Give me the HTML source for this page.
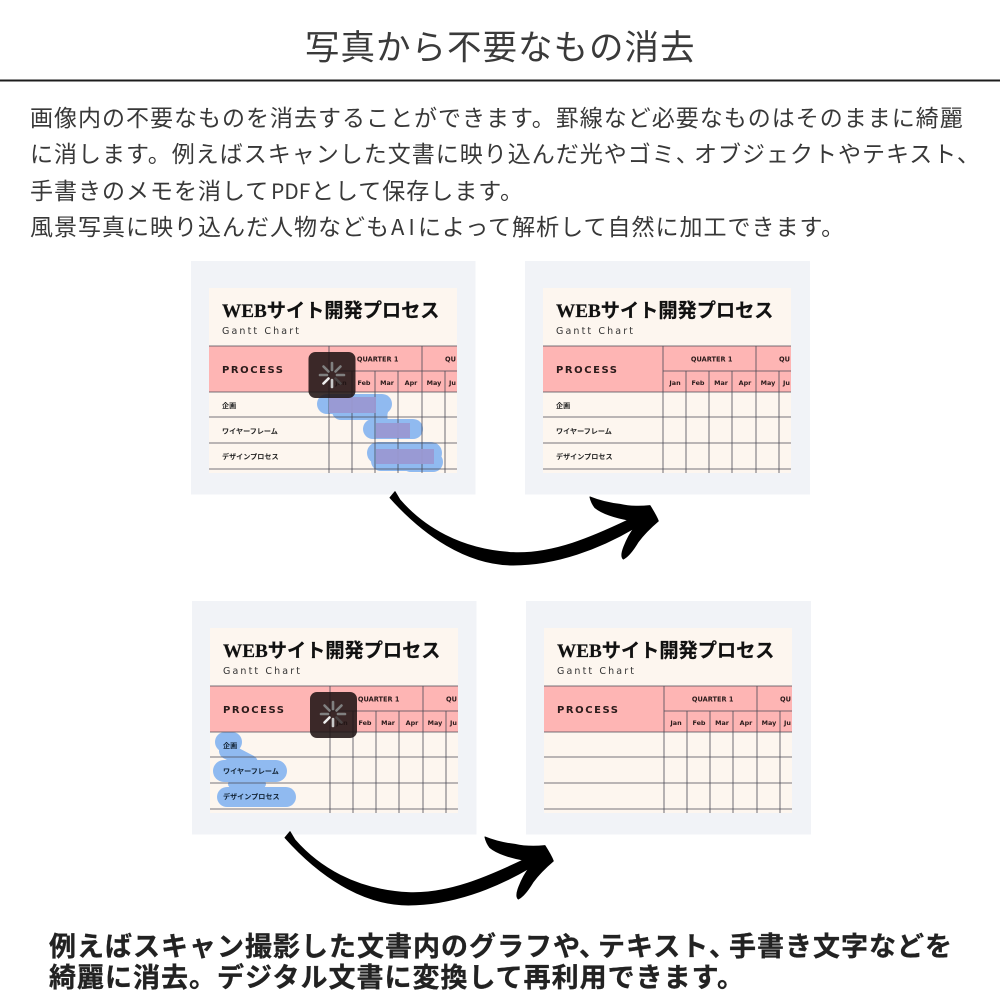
<!DOCTYPE html>
<html lang="ja"><head><meta charset="utf-8"><style>
html,body{margin:0;padding:0;background:#fff}
svg{display:block}
text{font-family:"Liberation Sans","Noto Sans CJK JP",sans-serif}
.j{font-family:"Noto Sans CJK JP",sans-serif}
.b{font-size:23px;letter-spacing:1px;fill:#383838}
.h{font-weight:700;font-size:27px;letter-spacing:1px;fill:#222;stroke:#222;stroke-width:.3}
.t{font-size:19.2px;font-weight:700;fill:#111;stroke:#111;stroke-width:.2;font-family:"Liberation Serif","Noto Sans CJK JP",serif}
.g{font-size:9.5px;fill:#333;font-family:"DejaVu Sans",sans-serif}
.p{font-size:10px;font-weight:700;fill:#2a1a1a;font-family:"DejaVu Sans",sans-serif}
.q{font-size:6.6px;font-weight:700;fill:#2a1a1a;text-anchor:middle;font-family:"DejaVu Sans",sans-serif}
.m{font-size:6.4px;font-weight:700;fill:#2a1a1a;text-anchor:middle;font-family:"DejaVu Sans",sans-serif}
.r{font-size:7.1px;font-weight:700;fill:#222}
.l{stroke:#4a4a55;stroke-width:.8;fill:none}
.bl{fill:none;stroke:#90baf0;stroke-linecap:round;stroke-linejoin:round}
.sp{stroke-width:2.6;stroke-linecap:round;fill:none}
</style></head><body>
<svg xmlns="http://www.w3.org/2000/svg" width="1000" height="1000" viewBox="0 0 1000 1000">
<rect width="1000" height="1000" fill="#fff"/>
<text class="j" x="305" y="59.500" font-size="34.500" letter-spacing="1" fill="#3a3a3a">写真から不要なもの消去</text>
<rect x="0" y="79.500" width="1000" height="2" fill="#1c1c1c"/>
<text class="j b" x="30" y="126">画像内の不要なものを消去することができます。罫線など必要なものはそのままに綺麗</text>
<text class="j b" x="30" y="162">に消します。例えばスキャンした文書に映り込んだ光やゴミ、</text>
<text class="j b" x="694" y="162">オブジェクトやテキスト、</text>
<text class="j b" x="30" y="199">手書きのメモを消して</text>
<text class="j" x="271" y="199" font-size="21" letter-spacing="0" fill="#383838">PDF</text>
<text class="j b" x="311" y="199">として保存します。</text>
<text class="j b" x="30" y="235">風景写真に映り込んだ人物なども</text>
<text class="j" x="391" y="235" font-size="22" letter-spacing="4" fill="#383838">AI</text>
<text class="j b" x="418" y="235">によって解析して自然に加工できます。</text>

<!-- Panel 1 -->
<g transform="translate(191 261)">
<rect width="284.500" height="233.500" fill="#f1f3f7"/>
<rect x="18" y="27" width="248" height="185" fill="#fdf6ef"/>
<rect x="18" y="85" width="248" height="46" fill="#feb5b4"/>
<text class="t" x="31" y="56">WEBサイト開発プロセス</text>
<text class="g" x="31" y="73" textLength="77">Gantt Chart</text>
<text class="p" x="31" y="112" textLength="61">PROCESS</text>
<text class="q" x="186.700" y="100.500">QUARTER 1</text><text class="q" x="254" y="100.500" style="text-anchor:start">QU</text>
<text class="m" x="150" y="124">Jan</text><text class="m" x="173" y="124">Feb</text><text class="m" x="196" y="124">Mar</text><text class="m" x="220" y="124">Apr</text><text class="m" x="243" y="124">May</text><text class="m" x="258" y="124" style="text-anchor:start">Ju</text>
<text class="r j" x="31" y="147">企画</text><text class="r j" x="31" y="172.500">ワイヤーフレーム</text><text class="r j" x="31" y="198">デザインプロセス</text>
<path class="bl" stroke-width="20" d="M136 143H191"/><path class="bl" stroke-width="18" d="M150 150H188"/><path class="bl" stroke-width="15" d="M189 155V165"/><path class="bl" stroke-width="20" d="M182 168H222"/><path class="bl" stroke-width="22" d="M187 192H240"/><path class="bl" stroke-width="20" d="M190 200H215M220 201H242"/>
<path class="l" d="M18 85H266M18 131H266M18 156H266M18 182H266M18 208H266M138 85V212M161 110V212M184 110V212M207 110V212M231 85V212M254 110V212M138 110H266"/>
<rect x="138" y="136" width="47" height="16" fill="#9a98d2" fill-opacity=".95"/><rect x="185" y="162" width="34" height="15" fill="#9a98d2" fill-opacity=".95"/><rect x="185" y="188" width="58" height="15" fill="#9a98d2" fill-opacity=".95"/>
<rect x="117.500" y="91" width="47" height="46" rx="7" fill="#201515" fill-opacity=".88"/>
<path class="sp" stroke="#808080" d="M141 102v7M149.500 105.500l-5 5M153 114h-7M129 114h7M132.500 105.500l5 5"/><path class="sp" stroke="#4a4444" d="M149.500 122.500l-5-5"/><path class="sp" stroke="#c8c8c8" d="M141 126v-7"/><path class="sp" stroke="#eee" d="M132.500 122.500l5-5"/>
</g>

<!-- Panel 2 -->
<g transform="translate(525 261)">
<rect width="285" height="233.500" fill="#f1f3f7"/>
<rect x="18" y="27" width="248" height="185" fill="#fdf6ef"/>
<rect x="18" y="85" width="248" height="46" fill="#feb5b4"/>
<text class="t" x="31" y="56">WEBサイト開発プロセス</text>
<text class="g" x="31" y="73" textLength="77">Gantt Chart</text>
<text class="p" x="31" y="112" textLength="61">PROCESS</text>
<text class="q" x="186.700" y="100.500">QUARTER 1</text><text class="q" x="254" y="100.500" style="text-anchor:start">QU</text>
<text class="m" x="150" y="124">Jan</text><text class="m" x="173" y="124">Feb</text><text class="m" x="196" y="124">Mar</text><text class="m" x="220" y="124">Apr</text><text class="m" x="243" y="124">May</text><text class="m" x="258" y="124" style="text-anchor:start">Ju</text>
<text class="r j" x="31" y="147">企画</text><text class="r j" x="31" y="172.500">ワイヤーフレーム</text><text class="r j" x="31" y="198">デザインプロセス</text>
<path class="l" d="M18 85H266M18 131H266M18 156H266M18 182H266M18 208H266M138 85V212M161 110V212M184 110V212M207 110V212M231 85V212M254 110V212M138 110H266"/>
</g>

<!-- Panel 3 -->
<g transform="translate(192 601)">
<rect width="284.500" height="233.500" fill="#f1f3f7"/>
<rect x="18" y="27" width="248" height="185" fill="#fdf6ef"/>
<rect x="18" y="85" width="248" height="46" fill="#feb5b4"/>
<text class="t" x="31" y="56">WEBサイト開発プロセス</text>
<text class="g" x="31" y="73" textLength="77">Gantt Chart</text>
<text class="p" x="31" y="112" textLength="61">PROCESS</text>
<text class="q" x="186.700" y="100.500">QUARTER 1</text><text class="q" x="254" y="100.500" style="text-anchor:start">QU</text>
<text class="m" x="150" y="124">Jan</text><text class="m" x="173" y="124">Feb</text><text class="m" x="196" y="124">Mar</text><text class="m" x="220" y="124">Apr</text><text class="m" x="243" y="124">May</text><text class="m" x="258" y="124" style="text-anchor:start">Ju</text>
<path class="bl" stroke-width="20" d="M33 141H40"/><path class="bl" stroke-width="16" d="M35 150L58 162"/><path class="bl" stroke-width="22" d="M32 170H84"/><path class="bl" stroke-width="8" d="M40 183H70"/><path class="bl" stroke-width="20" d="M35 196H94"/>
<path class="l" d="M18 85H266M18 131H266M18 156H266M18 182H266M18 208H266M138 85V212M161 110V212M184 110V212M207 110V212M231 85V212M254 110V212M138 110H266"/>
<text class="r j" x="31" y="147" style="fill:#123">企画</text><text class="r j" x="31" y="172.500" style="fill:#123">ワイヤーフレーム</text><text class="r j" x="31" y="198" style="fill:#123">デザインプロセス</text>
<rect x="118" y="91" width="47" height="46" rx="7" fill="#201515" fill-opacity=".88"/>
<g transform="translate(0 -1)"><path class="sp" stroke="#808080" d="M141 102v7M149.500 105.500l-5 5M153 114h-7M129 114h7M132.500 105.500l5 5"/><path class="sp" stroke="#4a4444" d="M149.500 122.500l-5-5"/><path class="sp" stroke="#c8c8c8" d="M141 126v-7"/><path class="sp" stroke="#eee" d="M132.500 122.500l5-5"/></g>
</g>

<!-- Panel 4 -->
<g transform="translate(526 601)">
<rect width="285" height="233.500" fill="#f1f3f7"/>
<rect x="18" y="27" width="248" height="185" fill="#fdf6ef"/>
<rect x="18" y="85" width="248" height="46" fill="#feb5b4"/>
<text class="t" x="31" y="56">WEBサイト開発プロセス</text>
<text class="g" x="31" y="73" textLength="77">Gantt Chart</text>
<text class="p" x="31" y="112" textLength="61">PROCESS</text>
<text class="q" x="186.700" y="100.500">QUARTER 1</text><text class="q" x="254" y="100.500" style="text-anchor:start">QU</text>
<text class="m" x="150" y="124">Jan</text><text class="m" x="173" y="124">Feb</text><text class="m" x="196" y="124">Mar</text><text class="m" x="220" y="124">Apr</text><text class="m" x="243" y="124">May</text><text class="m" x="258" y="124" style="text-anchor:start">Ju</text>
<path class="l" d="M18 85H266M18 131H266M18 156H266M18 182H266M18 208H266M138 85V212M161 110V212M184 110V212M207 110V212M231 85V212M254 110V212M138 110H266"/>
</g>

<!-- Arrows -->
<path transform="translate(280 485) scale(.3333)" fill="#000" stroke="#000" stroke-width="3" stroke-linejoin="round" d="M345 20L360 45C430 125 540 195 700 203C820 208 940 155 1045 105C1005 98 965 85 945 68C935 55 932 45 930 36C960 48 990 55 1020 58C1050 65 1080 65 1110 62C1120 78 1130 95 1135 108C1115 125 1090 150 1075 170C1060 195 1045 215 1030 222C1022 215 1026 200 1032 185C1040 165 1050 145 1062 130C960 190 830 240 700 240C560 240 430 150 330 38Z"/>
<path transform="translate(175 825) scale(.3333)" fill="#000" stroke="#000" stroke-width="3" stroke-linejoin="round" d="M345 20L360 45C430 125 540 195 700 203C820 208 940 155 1045 105C1005 98 965 85 945 68C935 55 932 45 930 36C960 48 990 55 1020 58C1050 65 1080 65 1110 62C1120 78 1130 95 1135 108C1115 125 1090 150 1075 170C1060 195 1045 215 1030 222C1022 215 1026 200 1032 185C1040 165 1050 145 1062 130C960 190 830 240 700 240C560 240 430 150 330 38Z"/>

<text class="j h" x="49" y="956">例えばスキャン撮影した文書内のグラフや</text>
<text class="j h" x="579" y="956">、</text>
<text class="j h" x="598" y="956">テキスト</text>
<text class="j h" x="709" y="956">、</text>
<text class="j h" x="729" y="956">手書き文字などを</text>
<text class="j h" x="49" y="987">綺麗に消去。デジタル文書に変換して再利用できます。</text>
</svg>
</body></html>
